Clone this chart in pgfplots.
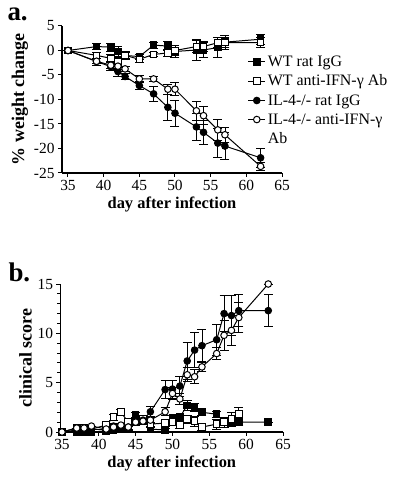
\documentclass[border=0pt]{standalone}
\usepackage{fontspec}
\setmainfont{Liberation Serif}
\usepackage{pgfplots}
\pgfplotsset{compat=1.18}
\pgfplotsset{
  myax/.style={
    scale only axis,
    axis lines=left,
    axis line style={line width=1.1pt,-},
    tick style={line width=1pt, black},
    tick align=outside,
    major tick length=4bp,
    minor tick length=3bp,
    xtick={35,40,...,65},
    xmax=65,
    clip=false,
    tick label style={font=\fontsize{15.5}{15.5}\selectfont},
    /pgf/number format/assume math mode=true,
    xlabel style={font=\bfseries\fontsize{16.5}{16.5}\selectfont},
    ylabel style={font=\bfseries\fontsize{18}{18}\selectfont},
    every axis plot/.append style={black, line width=1pt, mark size=3.3pt},
    error bars/y dir=both,
    error bars/y explicit,
    error bars/error bar style={line width=0.8pt, black},
    error bars/error mark options={rotate=90, mark size=4.5bp, line width=0.8pt, black},
  },
  fsq/.style={black, mark=square*, mark options={fill=black, draw=black, solid}},
  osq/.style={black, mark=square*, mark options={fill=white, draw=black, solid}},
  fci/.style={black, mark=*, mark options={fill=black, draw=black, solid}},
  oci/.style={black, mark=*, mark options={fill=white, draw=black, solid}},
}
\begin{document}
\begin{tikzpicture}
\path[use as bounding box] (0,0) rectangle (400bp,484bp);
\node[font=\bfseries\fontsize{27}{27}\selectfont, anchor=base west] at (4bp,463bp) {a.};
\node[font=\bfseries\fontsize{27}{27}\selectfont, anchor=base west] at (5bp,202bp) {b.};
% ---------- panel a ----------
\begin{axis}[myax,
  at={(62bp,311bp)}, anchor=south west,
  width=220bp, height=147bp,
  xmin=34.16, ymin=-25, ymax=5,
  ytick={-25,-20,...,5},
  xlabel={day after infection},
  ylabel={\% weight change},
  xlabel style={yshift=1bp},
  ylabel style={yshift=-1bp},
  legend style={at={(0.83,0.825)}, anchor=north west, draw=none, fill=none,
    font=\fontsize{16}{16}\selectfont, row sep=3bp,
    /tikz/every even column/.append style={column sep=2bp}},
  legend cell align=left,
]
\addplot[fsq] table[x=d, y=v, y error=e] {
d v e
35 0 0
39 0.8 0.6
41 0.7 0.8
42 -0.2 1.0
43 -1.0 0.8
45 -1.25 0.5
47 1.1 0.6
49 0.9 0.9
50 -0.2 1.2
53 0.1 2.2
54 0.1 1.5
56 0.6 2.0
57 1.7 1.4
62 2.3 1.0
};
\addlegendentry{WT rat IgG}
\addplot[osq] table[x=d, y=v, y error=e] {
d v e
35 0 0
39 -1.0 0.6
41 -1.6 0.8
42 -2.3 0.8
43 -1.0 0.6
45 -1.8 0.6
47 -0.8 0.5
49 -0.5 0.8
50 0.0 1.0
53 0.8 1.2
54 0.8 1.0
56 1.6 1.0
57 1.6 1.0
62 1.6 1.0
};
\addlegendentry{WT anti-IFN-γ Ab}
\addplot[fci] table[x=d, y=v, y error=e] {
d v e
35 0 0
39 -2.25 0.7
41 -3.3 0.8
42 -4.3 1.0
43 -5.3 0.7
45 -7.15 0.8
47 -8.85 1.5
49 -11.6 2.6
50 -12.8 2.6
53 -15.6 2.7
54 -16.7 2.5
56 -18.9 3.0
57 -19.5 2.8
62 -21.9 2.0
};
\addlegendentry{IL-4-/- rat IgG}
\addplot[oci] table[x=d, y=v, y error=e] {
d v e
35 0 0
39 -2.2 0.5
41 -3.0 0.7
42 -3.2 0.7
43 -3.75 0.6
45 -5.8 0.8
47 -5.8 0.6
49 -7.9 1.0
50 -7.9 1.3
53 -12.3 2.0
54 -13.3 1.8
56 -16.2 2.2
57 -17.2 1.6
62 -23.65 0.8
};
\addlegendentry{IL-4-/- anti-IFN-γ}
\addlegendimage{empty legend}
\addlegendentry{Ab}
\end{axis}
% ---------- panel b ----------
\begin{axis}[myax,
  at={(60.5bp,52bp)}, anchor=south west,
  width=222.5bp, height=148bp,
  xmin=34.8, ymin=0, ymax=15,
  ytick={0,5,10,15},
  minor y tick num=4,
  xlabel={day after infection},
  ylabel={clinical score},
  xlabel style={yshift=1bp},
  ylabel style={yshift=-1bp},
]
\addplot[fsq] table[x=d, y=v, y error=e] {
d v e
35 0 0
37 0 0
38 0 0
39 0 0
41 0.1 0
42 0.2 0.2
43 0.3 0.2
44 0.4 0.2
45 1.7 0.3
46 1.3 0.3
47 0.3 0.2
49 0.2 0.2
50 1.4 0.3
51 1.5 0.3
52 2.7 0.5
53 2.5 0.4
54 2.0 0.3
56 1.8 0.3
57 1.0 0.3
58 1.0 0.3
59 1.0 0.3
63 1.0 0
};
\addplot[osq] table[x=d, y=v, y error=e] {
d v e
35 0 0
37 0.4 0
38 0.4 0
39 0.3 0
41 0.7 0.2
42 1.5 0.3
43 2.0 0.3
44 1.0 0.2
45 1.0 0.3
46 1.3 0.3
47 0.8 0.2
49 0.9 0.3
50 1.0 0.3
51 0.7 0.3
52 1.3 0.4
53 1.1 0.5
54 0.5 0.3
56 0.8 0.5
57 1.0 0.5
58 1.3 0.7
59 1.8 0.7
};
\addplot[fci] table[x=d, y=v, y error=e] {
d v e
35 0 0
37 0.2 0
38 0.2 0
39 0.3 0
41 0.2 0
42 0.6 0.2
43 0.5 0.2
44 0.5 0.2
45 1.2 0.3
46 1.2 0.3
47 2.05 0.5
49 4.3 0.9
50 4.35 0.9
51 4.65 1.0
52 7.2 1.9
53 8.3 1.8
54 8.75 1.6
56 9.35 1.6
57 12.0 1.8
58 11.8 2.0
59 12.3 1.6
63 12.3 1.6
};
\addplot[oci] table[x=d, y=v, y error=e] {
d v e
35 0 0
37 0.4 0
38 0.4 0
39 0.6 0
41 0.3 0
42 0.5 0.2
43 0.7 0.2
44 0.5 0.2
45 1.0 0.3
46 1.1 0.3
47 1.2 0.3
49 2.05 0.4
50 3.9 0.6
51 3.35 0.6
52 5.8 0.7
53 5.6 0.7
54 6.6 0.5
56 7.95 0.6
57 9.8 1.5
58 10.3 1.5
59 11.6 1.5
63 15.0 0
};
\end{axis}
\end{tikzpicture}
\end{document}
